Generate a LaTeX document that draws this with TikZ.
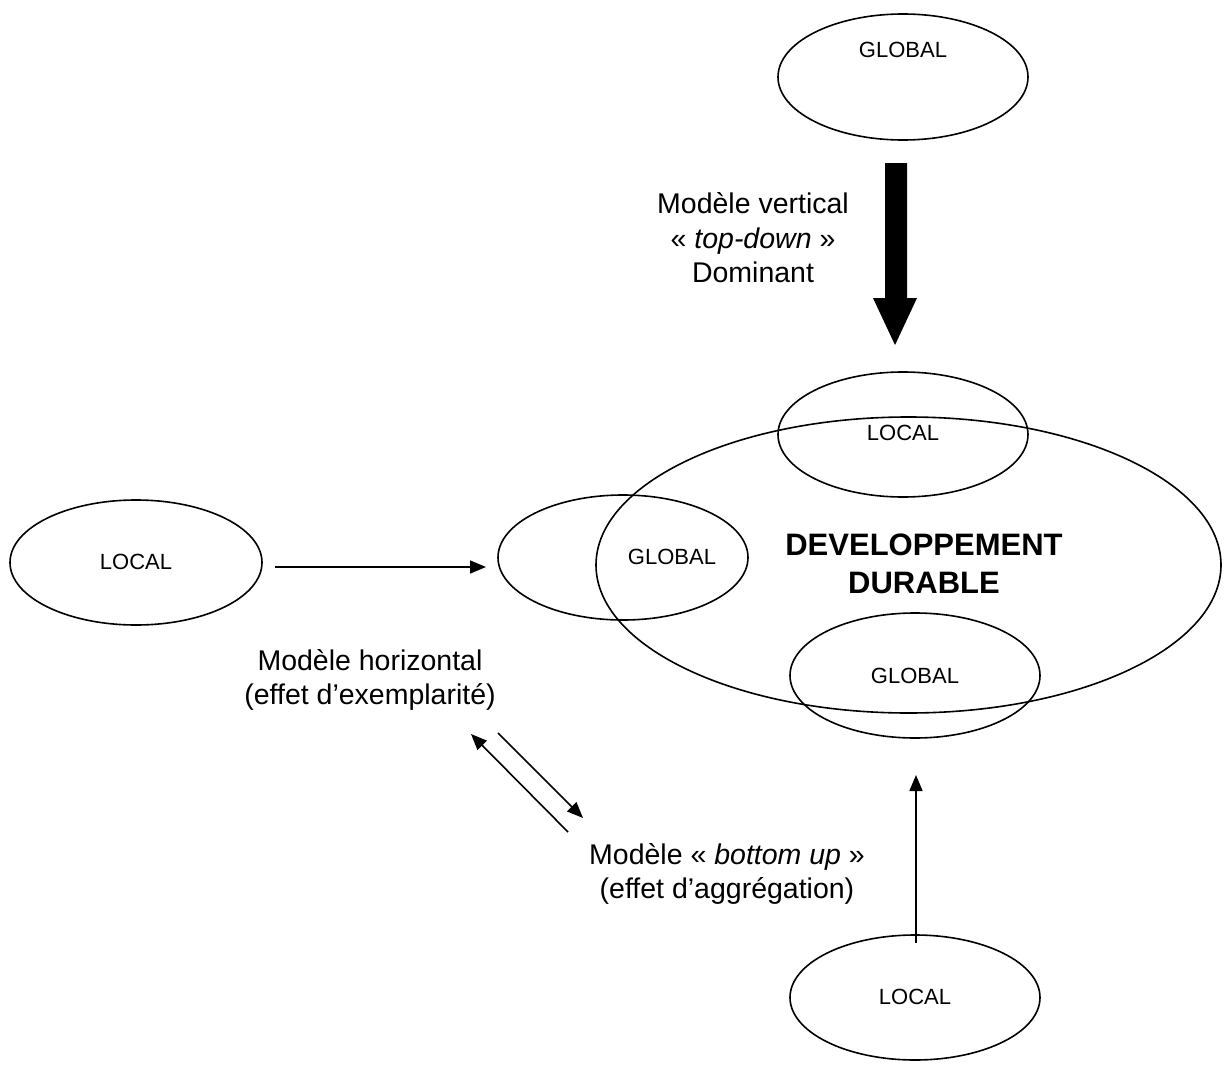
\documentclass[tikz,border=0pt]{standalone}
\usepackage{fontspec}
\setmainfont{Liberation Sans}
\usetikzlibrary{shapes.geometric,arrows.meta}
\begin{document}
\begin{tikzpicture}[x=1pt,y=-1pt,
  ell/.style={draw,ellipse,line width=1.6pt,inner sep=0pt},
  small/.style={font=\fontsize{22}{26}\selectfont},
  lbl/.style={font=\fontsize{28.5}{34.5}\selectfont,align=center},
  arr/.style={line width=1.6pt,-{Triangle[length=16pt,width=13pt]}}]
\useasboundingbox (0,0) rectangle (1224,1081);
% ellipses
\node[ell,minimum width=625pt,minimum height=296pt] (dd) at (908.5,565) {};
\node[ell,minimum width=250pt,minimum height=126pt] (gtop) at (903,77) {};
\node[ell,minimum width=250pt,minimum height=125pt] (ltop) at (903,434.5) {};
\node[ell,minimum width=250pt,minimum height=125pt] (gleft) at (623,557.5) {};
\node[ell,minimum width=250pt,minimum height=125pt] (gbot) at (915,675.5) {};
\node[ell,minimum width=252pt,minimum height=125pt] (lleft) at (136,562.5) {};
\node[ell,minimum width=250pt,minimum height=125pt] (lbot) at (915,997.5) {};
% texts in ellipses
\node[small] (tgtop) at (903,50) {GLOBAL};
\node[small] (tltop) at (903,433) {LOCAL};
\node[small] (tgleft) at (672,557) {GLOBAL};
\node[small] (tgbot) at (915,676) {GLOBAL};
\node[small] (tlleft) at (136,562) {LOCAL};
\node[small] (tlbot) at (915,997) {LOCAL};
\node[font=\bfseries\fontsize{31}{38}\selectfont,align=center] (tdd) at (924,564) {DEVELOPPEMENT\\DURABLE};
% labels
\node[lbl] (vert) at (753,238) {Modèle vertical\\« \textit{top-down} »\\Dominant};
\node[lbl] (horiz) at (370,680) {Modèle horizontal\\(effet d’exemplarité)};
\node[lbl] (bott) at (727,874) {Modèle « \textit{bottom up} »\\(effet d’aggrégation)};
% big arrow
\coordinate (bigs) at (896,163);
\coordinate (bige) at (895,345);
\fill (885,163) -- (907,163) -- (907,298) -- (917,298) -- (bige) -- (873,298) -- (885,298) -- cycle;
% horizontal arrow
\coordinate (h1) at (275,567);
\coordinate (h2) at (486,567);
\draw[arr] (h1) -- (h2);
% diagonal arrows
\coordinate (d1s) at (568,832);
\coordinate (d1e) at (471,734);
\draw[arr] (d1s) -- (d1e);
\coordinate (d2s) at (498,733);
\coordinate (d2e) at (583,818);
\draw[arr] (d2s) -- (d2e);
% vertical arrow
\coordinate (v1) at (916,943);
\coordinate (v2) at (916,775);
\draw[arr] (v1) -- (v2);
\end{tikzpicture}
\end{document}
